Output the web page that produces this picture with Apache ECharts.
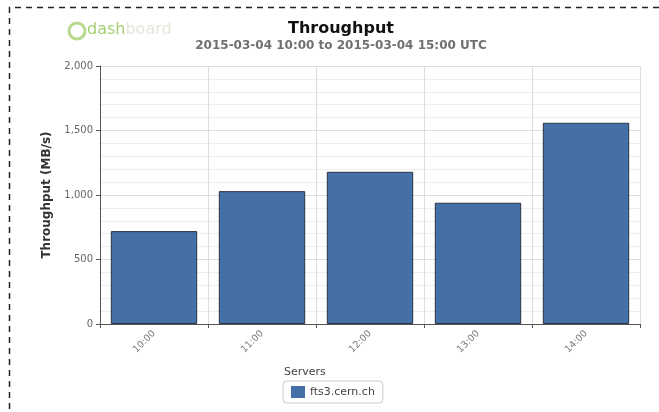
<!DOCTYPE html>
<html>
<head>
<meta charset="utf-8">
<script src="https://cdn.jsdelivr.net/npm/echarts@6/dist/echarts.min.js"></script>
<style>
  html, body { margin: 0; padding: 0; background: #fff; }
  #chart { width: 659px; height: 412px; }
</style>
</head>
<body>
<div id="chart"></div>
<script>
// values
const hours = ['10:00', '11:00', '12:00', '13:00', '14:00'];
const throughput = [720, 1030, 1180, 940, 1560];
const seriesName = 'fts3.cern.ch';
const yMax = 2000;
const yStep = 500;

const chart = echarts.init(document.getElementById('chart'));

const option = {
    animation: false,
    textStyle: { fontFamily: 'DejaVu Sans' },
    title: {
        text: 'Throughput',
        subtext: '2015-03-04 10:00 to 2015-03-04 15:00 UTC',
        left: 336,
        textAlign: 'center',
        top: 16,
        itemGap: 3,
        textStyle: { fontSize: 16, fontWeight: 'bold', color: '#111' },
        subtextStyle: { fontSize: 12, fontWeight: 'bold', color: '#707070' }
    },
    grid: { left: 100, right: 19, top: 66, bottom: 88 },
    xAxis: {
        type: 'category',
        data: hours,
        boundaryGap: true,
        axisLine: { lineStyle: { color: '#555' } },
        axisTick: { show: true, length: 4, lineStyle: { color: '#555' } },
        axisLabel: { rotate: 45, fontSize: 9.5, color: '#777', margin: 8 },
        splitLine: { show: true, lineStyle: { color: '#ddd' } }
    },
    yAxis: {
        type: 'value',
        min: 0,
        max: yMax,
        interval: yStep,
        name: 'Throughput (MB/s)',
        nameLocation: 'middle',
        nameGap: 47,
        nameTextStyle: { fontSize: 12, fontWeight: 'bold', color: '#333' },
        axisLine: { show: true, lineStyle: { color: '#555' } },
        axisTick: { show: true, length: 4, lineStyle: { color: '#555' } },
        axisLabel: {
            fontSize: 10,
            color: '#666',
            margin: 7,
            formatter: v => v.toLocaleString('en-US')
        },
        splitLine: { show: true, lineStyle: { color: '#ddd' } },
        minorTick: { show: false, splitNumber: 5 },
        minorSplitLine: { show: true, lineStyle: { color: '#eee' } }
    },
    legend: {
        data: [{ name: seriesName, icon: 'rect', itemStyle: { borderWidth: 0 } }],
        left: 283,
        top: 381,
        itemWidth: 14,
        itemHeight: 12,
        itemGap: 6,
        padding: [5, 8],
        borderColor: '#ccc',
        borderWidth: 1,
        borderRadius: 4,
        textStyle: { fontSize: 11, color: '#444' }
    },
    graphic: [
        {
            type: 'polyline',
            shape: { points: [[659, 7.5], [9.5, 7.5], [9.5, 412]] },
            style: { stroke: '#222', lineWidth: 1.5, lineDash: [6, 5], fill: null }
        },
        {
            type: 'text',
            left: 284,
            top: 367,
            style: { text: 'Servers', fontSize: 11, fill: '#444', fontFamily: 'DejaVu Sans' }
        },
        {
            type: 'circle',
            shape: { cx: 77, cy: 31, r: 8 },
            style: { fill: 'none', stroke: '#b8d98e', lineWidth: 3 }
        },
        {
            type: 'text',
            left: 87,
            top: 22,
            style: {
                text: '{a|dash}{b|board}',
                rich: {
                    a: { fontSize: 16, fill: '#a6d070', fontFamily: 'DejaVu Sans' },
                    b: { fontSize: 16, fill: '#e0e8d8', fontFamily: 'DejaVu Sans' }
                }
            }
        }
    ],
    series: [
        {
            name: seriesName,
            type: 'bar',
            data: throughput,
            barWidth: '80%',
            itemStyle: { color: '#4470a6', borderColor: '#2b3444', borderWidth: 1 }
        }
    ]
};

chart.setOption(option);
</script>
</body>
</html>
